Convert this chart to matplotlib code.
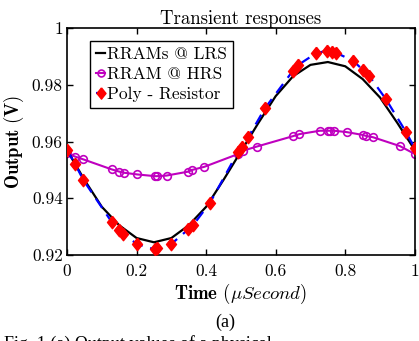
import numpy as np
import matplotlib
matplotlib.use('Agg')
import matplotlib.pyplot as plt

plt.rcParams['font.family'] = ['cmr10', 'DejaVu Serif']
plt.rcParams['mathtext.fontset'] = 'cm'
plt.rcParams['axes.formatter.use_mathtext'] = True

# RRAMs @ LRS (black solid)
t_lrs = [0, 0.05, 0.1, 0.15, 0.2, 0.25, 0.3, 0.35, 0.4, 0.45, 0.5,
         0.55, 0.6, 0.65, 0.7, 0.75, 0.8, 0.85, 0.9, 0.95, 1.0]
v_lrs = [0.957, 0.9465, 0.937, 0.9305, 0.926, 0.9245, 0.926, 0.9305, 0.937, 0.9465, 0.9565,
         0.9665, 0.976, 0.983, 0.987, 0.988, 0.9865, 0.982, 0.9755, 0.9665, 0.957]

# RRAM @ HRS (magenta circles)
t_hrs = [0.0, 0.023, 0.047, 0.128, 0.150, 0.164, 0.202, 0.253, 0.258, 0.286, 0.349,
         0.360, 0.395, 0.492, 0.507, 0.545, 0.650, 0.668, 0.727, 0.749, 0.755, 0.768,
         0.805, 0.851, 0.859, 0.880, 0.957, 1.0]
v_hrs = [0.9558, 0.9547, 0.9537, 0.9502, 0.9494, 0.949, 0.9484, 0.9478, 0.9478, 0.948, 0.9494,
         0.950, 0.9511, 0.9556, 0.9568, 0.9582, 0.9619, 0.9626, 0.9638, 0.9638, 0.9638, 0.9638,
         0.9633, 0.9623, 0.962, 0.9615, 0.9584, 0.9556]

# Poly - Resistor (blue dashed, red diamonds)
t_poly = [0.0, 0.023, 0.047, 0.128, 0.150, 0.162, 0.202, 0.253, 0.259, 0.299, 0.349,
          0.363, 0.411, 0.492, 0.502, 0.521, 0.569, 0.650, 0.665, 0.716, 0.748, 0.761,
          0.773, 0.823, 0.851, 0.869, 0.917, 0.974, 1.0]
v_poly = [0.957, 0.9521, 0.9464, 0.9317, 0.9288, 0.9274, 0.9238, 0.922, 0.9224, 0.9238, 0.9291,
          0.9306, 0.9384, 0.9564, 0.958, 0.9615, 0.9717, 0.985, 0.987, 0.9911, 0.992, 0.9917,
          0.9913, 0.9884, 0.9852, 0.9831, 0.9749, 0.9635, 0.9576]

xticks = [0, 0.2, 0.4, 0.6, 0.8, 1]
xtick_labels = ['0', '0.2', '0.4', '0.6', '0.8', '1']
yticks = [0.92, 0.94, 0.96, 0.98, 1]
ytick_labels = ['0.92', '0.94', '0.96', '0.98', '1']

fig = plt.figure(figsize=(4.19, 3.41), dpi=100)
ax = fig.add_axes([0.160, 0.252, 0.830, 0.666])

diamond = [(0, 1), (0.8, 0), (0, -1), (-0.8, 0), (0, 1)]

ax.plot(t_lrs, v_lrs, '-', color='black', lw=1.6, label='RRAMs @ LRS', zorder=3)
ax.plot(t_hrs, v_hrs, '-', color='#bf00bf', lw=1.5, marker='o', ms=5.5,
        mfc='none', mec='#bf00bf', mew=1.2, label='RRAM @ HRS', zorder=2)
ax.plot(t_poly, v_poly, '--', color='blue', lw=1.6, dashes=(5, 3.5), marker=diamond,
        ms=9, mfc='red', mec='red', label='Poly - Resistor', zorder=4)

ax.set_xlim(0, 1)
ax.set_ylim(0.92, 1)
ax.set_xticks(xticks)
ax.set_xticklabels(xtick_labels)
ax.set_yticks(yticks)
ax.set_yticklabels(ytick_labels)
ax.tick_params(direction='in', top=True, right=True, length=4, width=1, labelsize=12.5)
ax.tick_params(axis='x', pad=6)
ax.tick_params(axis='y', pad=3)
for s in ax.spines.values():
    s.set_linewidth(1.2)

ax.set_title('Transient responses', fontsize=13.5, pad=3)
ax.set_xlabel(r'$\mathbf{Time}$ $(\mu Second)$', fontsize=13.5, labelpad=2)
ax.set_ylabel(r'$\mathbf{Output\ (V)}$', fontsize=13.5, labelpad=4)

leg = ax.legend(loc='upper left', bbox_to_anchor=(0.067, 0.943), fontsize=12.5,
                handlelength=0.5, handletextpad=0.1, borderpad=0.35, labelspacing=0.25,
                borderaxespad=0, fancybox=False, edgecolor='black', framealpha=1,
                markerscale=0.9)
leg.get_frame().set_linewidth(1.0)

fig.text(0.537, 1 - 322 / 341, '(a)', ha='center', va='center', fontsize=13,
         family='Liberation Serif')
fig.text(0.01, 1 - 335 / 341, 'Fig. 1 (a) Output values of a physical',
         ha='left', va='top', fontsize=13, family='Liberation Serif')

fig.savefig('out.png', dpi=100)
